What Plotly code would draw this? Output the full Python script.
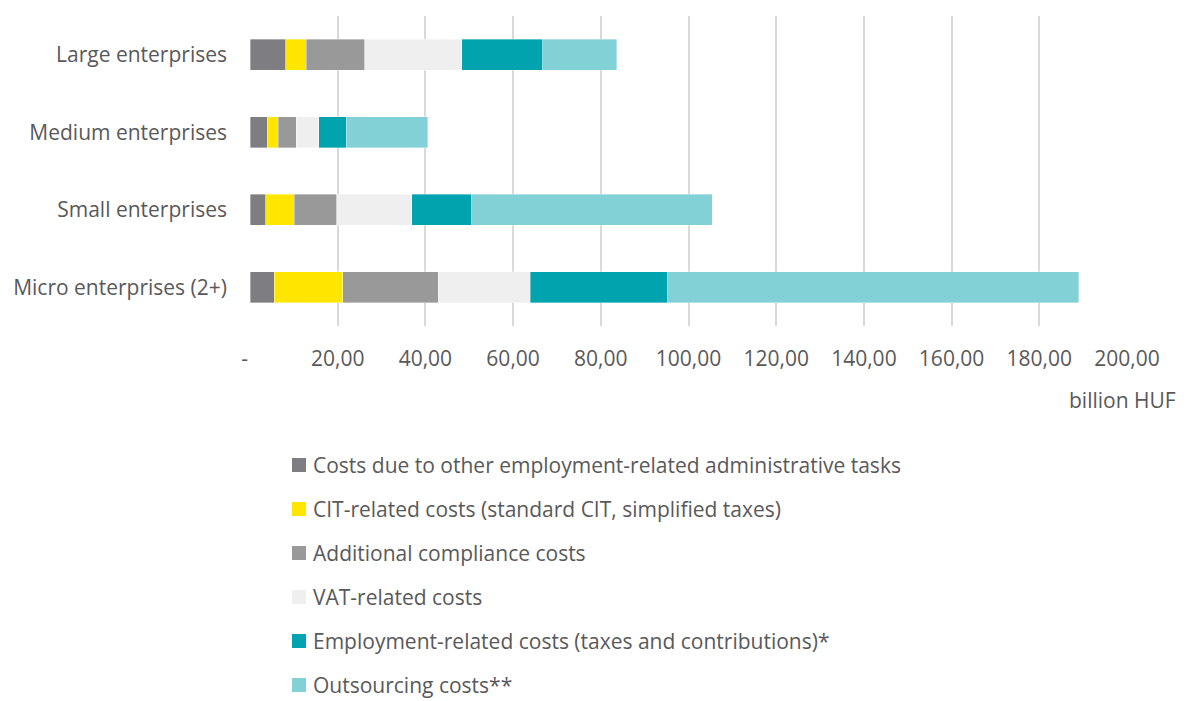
import plotly.graph_objects as go

# Enterprise size classes (bottom to top on the chart)
categories = ["Micro enterprises (2+)", "Small enterprises", "Medium enterprises", "Large enterprises"]

# Cost components, billion HUF, in the same order as categories
other_employment_admin = [5.5, 3.6, 3.9, 8.2]
cit_related = [15.6, 6.5, 2.5, 4.6]
additional_compliance = [21.8, 9.7, 4.1, 13.4]
vat_related = [21.0, 17.1, 5.2, 22.1]
employment_related = [31.4, 13.7, 6.2, 18.5]
outsourcing = [93.7, 54.8, 18.6, 16.8]

series_names = [
    "Costs due to other employment-related administrative tasks",
    "CIT-related costs (standard CIT, simplified taxes)",
    "Additional compliance costs",
    "VAT-related costs",
    "Employment-related costs (taxes and contributions)*",
    "Outsourcing costs**",
]
series_values = [
    other_employment_admin,
    cit_related,
    additional_compliance,
    vat_related,
    employment_related,
    outsourcing,
]
series_colors = ["#7d7d82", "#ffe600", "#999999", "#efefef", "#00a3ae", "#82d1d6"]

tick_values = [0, 20, 40, 60, 80, 100, 120, 140, 160, 180, 200]
tick_labels = ["-\u00a0\u00a0", "20,00", "40,00", "60,00", "80,00", "100,00",
               "120,00", "140,00", "160,00", "180,00", "200,00"]

FONT = "Open Sans"
TEXT = "#595959"
FS = 21

W, H = 1189, 701
ML, MR, MT, MB = 250, 62, 16, 375
PW, PH = W - ML - MR, H - MT - MB


def px_to_paper(px, py):
    return (px - ML) / PW, (H - MB - py) / PH


fig = go.Figure()
for name, vals, col in zip(series_names, series_values, series_colors):
    fig.add_trace(go.Bar(
        y=categories,
        x=vals,
        name=name,
        orientation="h",
        marker=dict(color=col, line=dict(color="rgba(255,255,255,0.6)", width=0.6)),
        showlegend=False,
    ))

# Legend drawn as a vertical list of swatches below the axis
for i, (name, col) in enumerate(zip(series_names, series_colors)):
    cy = 465 + 44 * i
    x0, y0 = px_to_paper(292, cy + 7)
    x1, y1 = px_to_paper(306, cy - 7)
    fig.add_shape(type="rect", xref="paper", yref="paper",
                  x0=x0, y0=y0, x1=x1, y1=y1,
                  fillcolor=col, line=dict(width=0), layer="above")
    tx, ty = px_to_paper(311, cy)
    fig.add_annotation(text=name, xref="paper", yref="paper",
                       x=tx, y=ty, xanchor="left", yanchor="middle",
                       showarrow=False,
                       font=dict(size=FS, color=TEXT, family=FONT))

fig.update_layout(
    barmode="stack",
    bargap=0.6,
    width=W,
    height=H,
    margin=dict(l=ML, r=MR, t=MT, b=MB, autoexpand=False),
    paper_bgcolor="white",
    plot_bgcolor="white",
    font=dict(family=FONT, color=TEXT, size=FS),
    showlegend=False,
    xaxis=dict(
        range=[0, 200],
        tickvals=tick_values,
        ticktext=tick_labels,
        showgrid=True,
        gridcolor="#d9d9d9",
        gridwidth=2,
        zeroline=False,
        ticks="",
        ticklabelstandoff=18,
        tickfont=dict(size=FS, color=TEXT),
        showline=False,
    ),
    yaxis=dict(
        categoryorder="array",
        categoryarray=categories,
        showgrid=False,
        zeroline=False,
        ticks="",
        ticklabelstandoff=22,
        tickfont=dict(size=FS, color=TEXT),
    ),
)

bx, by = px_to_paper(1178, 400)
fig.add_annotation(
    text="billion HUF",
    xref="paper", yref="paper",
    x=bx, y=by,
    xanchor="right", yanchor="middle",
    showarrow=False,
    font=dict(size=FS, color=TEXT, family=FONT),
)

fig.write_html("out.html")
